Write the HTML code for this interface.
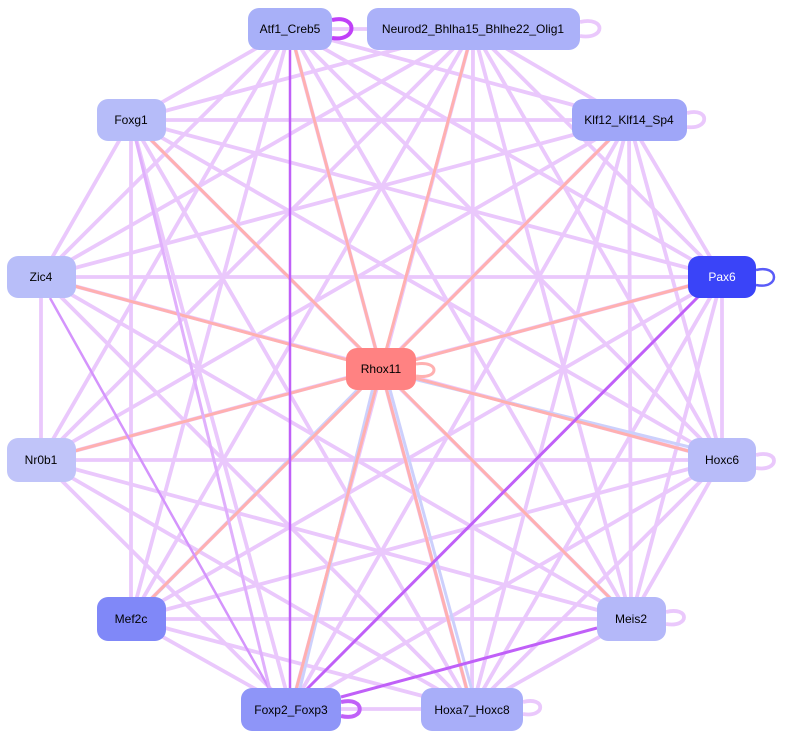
<!DOCTYPE html>
<html><head><meta charset="utf-8"><style>
html,body{margin:0;padding:0;background:#fff;}
svg{display:block;font-family:"Liberation Sans",sans-serif;}
</style></head><body>
<svg width="787" height="739" viewBox="0 0 787 739" xmlns="http://www.w3.org/2000/svg">
<g stroke="#eac8fc" stroke-width="3.8" fill="none">
<line x1="290" y1="29" x2="473" y2="29"/><line x1="290" y1="29" x2="131" y2="120"/><line x1="290" y1="29" x2="629" y2="120"/><line x1="290" y1="29" x2="41" y2="277"/><line x1="290" y1="29" x2="722" y2="277"/><line x1="290" y1="29" x2="41" y2="460"/><line x1="290" y1="29" x2="722" y2="460"/><line x1="290" y1="29" x2="131" y2="619"/><line x1="290" y1="29" x2="631" y2="619"/><line x1="290" y1="29" x2="472" y2="709"/>
<line x1="473" y1="29" x2="131" y2="120"/><line x1="473" y1="29" x2="629" y2="120"/><line x1="473" y1="29" x2="41" y2="277"/><line x1="473" y1="29" x2="722" y2="277"/><line x1="473" y1="29" x2="41" y2="460"/><line x1="473" y1="29" x2="722" y2="460"/><line x1="473" y1="29" x2="131" y2="619"/><line x1="473" y1="29" x2="631" y2="619"/><line x1="473" y1="29" x2="291" y2="709"/><line x1="473" y1="29" x2="472" y2="709"/>
<line x1="131" y1="120" x2="629" y2="120"/><line x1="131" y1="120" x2="41" y2="277"/><line x1="131" y1="120" x2="722" y2="277"/><line x1="131" y1="120" x2="722" y2="460"/><line x1="131" y1="120" x2="131" y2="619"/><line x1="131" y1="120" x2="631" y2="619"/><line x1="131" y1="120" x2="291" y2="709"/><line x1="131" y1="120" x2="472" y2="709"/>
<line x1="629" y1="120" x2="41" y2="277"/><line x1="629" y1="120" x2="722" y2="277"/><line x1="629" y1="120" x2="41" y2="460"/><line x1="629" y1="120" x2="722" y2="460"/><line x1="629" y1="120" x2="131" y2="619"/><line x1="629" y1="120" x2="631" y2="619"/><line x1="629" y1="120" x2="291" y2="709"/><line x1="629" y1="120" x2="472" y2="709"/>
<line x1="41" y1="277" x2="722" y2="277"/><line x1="41" y1="277" x2="41" y2="460"/><line x1="41" y1="277" x2="722" y2="460"/><line x1="41" y1="277" x2="631" y2="619"/><line x1="41" y1="277" x2="472" y2="709"/>
<line x1="722" y1="277" x2="41" y2="460"/><line x1="722" y1="277" x2="722" y2="460"/><line x1="722" y1="277" x2="131" y2="619"/><line x1="722" y1="277" x2="631" y2="619"/><line x1="722" y1="277" x2="472" y2="709"/>
<line x1="41" y1="460" x2="722" y2="460"/><line x1="41" y1="460" x2="631" y2="619"/><line x1="41" y1="460" x2="291" y2="709"/><line x1="41" y1="460" x2="472" y2="709"/>
<line x1="722" y1="460" x2="131" y2="619"/><line x1="722" y1="460" x2="631" y2="619"/><line x1="722" y1="460" x2="291" y2="709"/><line x1="722" y1="460" x2="472" y2="709"/>
<line x1="131" y1="619" x2="631" y2="619"/><line x1="131" y1="619" x2="291" y2="709"/><line x1="131" y1="619" x2="472" y2="709"/>
<line x1="631" y1="619" x2="472" y2="709"/><line x1="291" y1="709" x2="472" y2="709"/>
<path d="M580 22 C606 16,606 40,580 36"/><path d="M687 113 C710 107,710 130,687 127"/><path d="M756 455 C780 449,780 472,756 468"/><path d="M666 612 C690 606,690 628,666 624"/><path d="M523 702 C546 696,546 718,523 714"/>
</g>
<g stroke="#ccd0fc" stroke-width="3" fill="none">
<line x1="722" y1="455" x2="385" y2="372"/><line x1="386" y1="375" x2="476" y2="705"/><line x1="376" y1="375" x2="296" y2="705"/><line x1="372" y1="375" x2="136" y2="615"/>
</g>
<g stroke="#ffb0b0" stroke-width="3" fill="none">
<line x1="381" y1="369" x2="290" y2="29"/><line x1="381" y1="369" x2="473" y2="29"/><line x1="381" y1="369" x2="131" y2="120"/><line x1="381" y1="369" x2="629" y2="120"/><line x1="381" y1="369" x2="41" y2="277"/><line x1="381" y1="369" x2="722" y2="277"/><line x1="381" y1="369" x2="41" y2="460"/><line x1="381" y1="369" x2="722" y2="460"/><line x1="381" y1="369" x2="631" y2="619"/><line x1="381" y1="369" x2="291" y2="709"/><line x1="381" y1="369" x2="131" y2="619"/><line x1="381" y1="369" x2="472" y2="709"/>
<path d="M416 364 C440 360,440 380,416 376"/>
</g>
<g fill="none">
<line x1="290" y1="50" x2="290" y2="690" stroke="#c060f8" stroke-width="2.5"/>
<line x1="296" y1="700" x2="700" y2="295" stroke="#c060f8" stroke-width="3"/>
<line x1="341" y1="697" x2="597" y2="628" stroke="#c060f8" stroke-width="3"/>
<line x1="50" y1="298" x2="270" y2="690" stroke="#d494fc" stroke-width="2.5"/>
<line x1="131" y1="120" x2="270" y2="690" stroke="#e0b0fc" stroke-width="3"/>
<path d="M332 20 C358 14,358 42,332 38" stroke="#c040f8" stroke-width="4"/>
<path d="M341 702 C366 696,366 722,341 716" stroke="#c060f8" stroke-width="4"/>
<path d="M756 270 C780 264,780 290,756 285" stroke="#5a5cf8" stroke-width="2.5"/>
</g>
<g font-size="12" text-anchor="middle" fill="#000">
<rect x="248" y="8" width="84" height="42" rx="11" fill="#a8b0f8"/><text x="290" y="33">Atf1_Creb5</text>
<rect x="367" y="8" width="213" height="42" rx="11" fill="#abb1f9"/><text x="473" y="33">Neurod2_Bhlha15_Bhlhe22_Olig1</text>
<rect x="97" y="99" width="69" height="42" rx="11" fill="#b6bcf9"/><text x="131" y="124">Foxg1</text>
<rect x="572" y="99" width="115" height="42" rx="11" fill="#9fa6f8"/><text x="629" y="124">Klf12_Klf14_Sp4</text>
<rect x="7" y="256" width="69" height="42" rx="11" fill="#b8bef9"/><text x="41" y="281">Zic4</text>
<rect x="688" y="256" width="68" height="42" rx="11" fill="#3a44f8"/><text x="722" y="281" fill="#fff">Pax6</text>
<rect x="346" y="348" width="70" height="42" rx="11" fill="#ff8282"/><text x="381" y="373">Rhox11</text>
<rect x="7" y="438" width="69" height="44" rx="11" fill="#c0c4f9"/><text x="41" y="464">Nr0b1</text>
<rect x="688" y="438" width="68" height="44" rx="11" fill="#b8bcf9"/><text x="722" y="464">Hoxc6</text>
<rect x="97" y="597" width="69" height="44" rx="11" fill="#8088f8"/><text x="131" y="623">Mef2c</text>
<rect x="597" y="597" width="69" height="44" rx="11" fill="#b4b8f9"/><text x="631" y="623">Meis2</text>
<rect x="241" y="688" width="100" height="43" rx="11" fill="#8e95f8"/><text x="291" y="714">Foxp2_Foxp3</text>
<rect x="421" y="688" width="102" height="43" rx="11" fill="#a8aef9"/><text x="472" y="714">Hoxa7_Hoxc8</text>
</g>
</svg>
</body></html>
